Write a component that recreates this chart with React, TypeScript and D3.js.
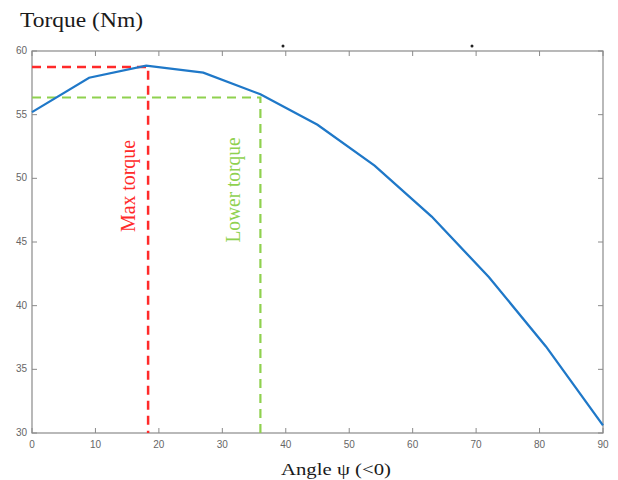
import React from "react";
import * as d3 from "d3";

const angles = [0, 9, 18, 27, 36, 45, 54, 63, 72, 81, 90];
const torque = [55.2, 57.9, 58.85, 58.3, 56.6, 54.2, 51.0, 47.0, 42.25, 36.8, 30.6];
const xTicks = [0, 10, 20, 30, 40, 50, 60, 70, 80, 90];
const yTicks = [30, 35, 40, 45, 50, 55, 60];
const maxTorque = { angle: 18.3, value: 58.75 };
const lowerTorque = { angle: 36, value: 56.35 };

export default function App() {
  const W = 618, H = 480;
  const left = 32, right = 603, top = 51, bottom = 433;
  const x = d3.scaleLinear().domain([0, 90]).range([left, right]);
  const y = d3.scaleLinear().domain([30, 60]).range([bottom, top]);
  const line = d3.line<number>().x((_, i) => x(angles[i])).y((d) => y(d));
  const axisColor = "#8a8a8a";
  const tickFont = "Liberation Sans, Arial, sans-serif";
  const serif = "Liberation Serif, Times New Roman, serif";
  return (
    <svg width={W} height={H} style={{ position: "absolute", left: 0, top: 0, background: "#fff" }}>
      <text x={20} y={27} fontFamily={serif} fontSize={20} fill="#1a1a1a" textLength={123} lengthAdjust="spacingAndGlyphs">Torque (Nm)</text>
      <rect x={left} y={top} width={right - left} height={bottom - top} fill="none" stroke={axisColor} strokeWidth={1.2} />
      {xTicks.map((t) => (
        <g key={"x" + t}>
          <line x1={x(t)} x2={x(t)} y1={bottom} y2={bottom - 5} stroke={axisColor} />
          <line x1={x(t)} x2={x(t)} y1={top} y2={top + 5} stroke={axisColor} />
          <text x={x(t)} y={bottom + 15} textAnchor="middle" fontFamily={tickFont} fontSize={10} fill="#666">{t}</text>
        </g>
      ))}
      {yTicks.map((t) => (
        <g key={"y" + t}>
          <line x1={left} x2={left + 5} y1={y(t)} y2={y(t)} stroke={axisColor} />
          <line x1={right} x2={right - 5} y1={y(t)} y2={y(t)} stroke={axisColor} />
          <text x={left - 5} y={y(t) + 3} textAnchor="end" fontFamily={tickFont} fontSize={10} fill="#666">{t}</text>
        </g>
      ))}
      <path d={`M${x(0)},${y(maxTorque.value)}H${x(maxTorque.angle)}V${y(30)}`} fill="none" stroke="#ff2a2a" strokeWidth={2.5} strokeDasharray="9,6" />
      <path d={`M${x(0)},${y(lowerTorque.value)}H${x(lowerTorque.angle)}V${y(30)}`} fill="none" stroke="#8fd14f" strokeWidth={2.2} strokeDasharray="9,6" />
      <path d={line(torque) || ""} fill="none" stroke="#1f78c8" strokeWidth={2.3} />
      <text transform={`translate(${x(maxTorque.angle) - 13},${186}) rotate(-90)`} textAnchor="middle" fontFamily={serif} fontSize={20} fill="#ff2a2a" textLength={92} lengthAdjust="spacingAndGlyphs">Max torque</text>
      <text transform={`translate(${x(lowerTorque.angle) - 20},${190}) rotate(-90)`} textAnchor="middle" fontFamily={serif} fontSize={20} fill="#8fd14f" textLength={105} lengthAdjust="spacingAndGlyphs">Lower torque</text>
      <circle cx={283} cy={46} r={1.5} fill="#222" />
      <circle cx={472} cy={46} r={1.5} fill="#222" />
      <text x={281} y={475} fontFamily={serif} fontSize={17} fill="#1a1a1a" textLength={110} lengthAdjust="spacingAndGlyphs">Angle ψ (&lt;0)</text>
    </svg>
  );
}
